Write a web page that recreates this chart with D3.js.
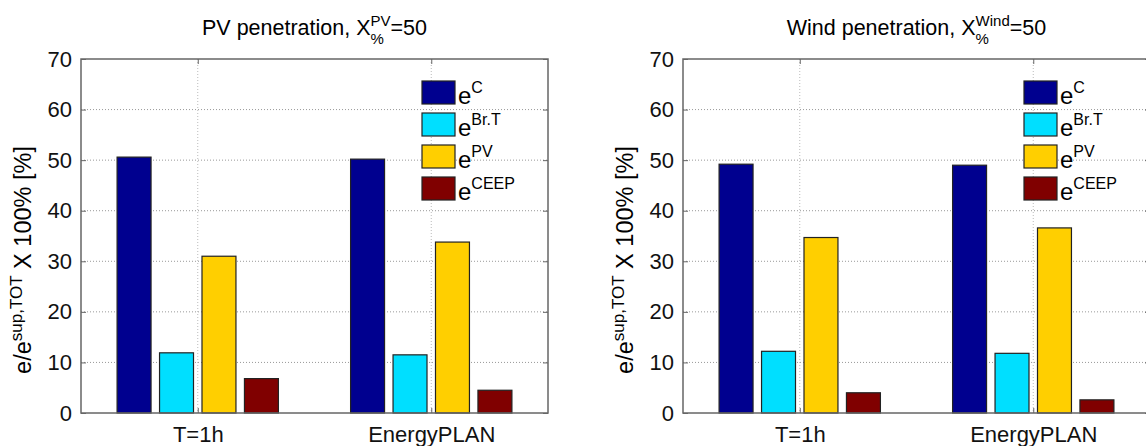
<!DOCTYPE html>
<html>
<head>
<meta charset="utf-8">
<script src="https://cdn.jsdelivr.net/npm/d3@7"></script>
<style>
  body { margin: 0; background: #fff; }
  svg { display: block; font-family: 'Liberation Sans', Arial, sans-serif; }
</style>
</head>
<body>
<div id="chart"></div>
<script>
// data
const categories = ['T=1h', 'EnergyPLAN'];
const seriesKeys = ['C', 'Br.T', 'PV', 'CEEP'];
const seriesColors = ['#00008f', '#00dfff', '#ffcf00', '#800000'];
const yTicks = [0, 10, 20, 30, 40, 50, 60, 70];

const pvC = [50.6, 50.2];
const pvBrT = [11.9, 11.5];
const pvPV = [31.0, 33.8];
const pvCEEP = [6.8, 4.5];

const windC = [49.2, 49.0];
const windBrT = [12.2, 11.8];
const windPV = [34.7, 36.6];
const windCEEP = [4.0, 2.6];

const panels = [
  { left: 81, title: 'PV penetration, X', sup: 'PV', series: [pvC, pvBrT, pvPV, pvCEEP] },
  { left: 683, title: 'Wind penetration, X', sup: 'Wind', series: [windC, windBrT, windPV, windCEEP] },
];

const width = 1146, height = 446;
const plotW = 467, plotTop = 59, plotBottom = 413;
const font = "'Liberation Sans', Arial, sans-serif";

const svg = d3.select('#chart').append('svg')
  .attr('width', width).attr('height', height);

const y = d3.scaleLinear().domain([0, 70]).range([plotBottom, plotTop]);

panels.forEach(p => {
  const g = svg.append('g');
  const x = d3.scaleLinear().domain([0.5, 2.5]).range([p.left, p.left + plotW]);
  const groupW = 4 / 5.5;
  const inner = d3.scaleBand().domain(seriesKeys)
    .range([-groupW / 2, groupW / 2]).paddingInner(0.2).paddingOuter(0.1);

  // grid
  g.selectAll('.hgrid').data(yTicks.slice(1, -1)).enter().append('line')
    .attr('x1', p.left).attr('x2', p.left + plotW)
    .attr('y1', d => y(d)).attr('y2', d => y(d))
    .attr('stroke', '#999').attr('stroke-width', 1).attr('stroke-dasharray', '1,2');
  g.selectAll('.vgrid').data([1, 2]).enter().append('line')
    .attr('x1', d => x(d)).attr('x2', d => x(d))
    .attr('y1', plotTop).attr('y2', plotBottom)
    .attr('stroke', '#bbb').attr('stroke-width', 1).attr('stroke-dasharray', '1,2');

  // bars
  p.series.forEach((vals, si) => {
    g.selectAll(null).data(vals).enter().append('rect')
      .attr('x', (d, i) => x(i + 1 + inner(seriesKeys[si])))
      .attr('width', x(inner.bandwidth()) - x(0))
      .attr('y', d => y(d))
      .attr('height', d => y(0) - y(d))
      .attr('fill', seriesColors[si])
      .attr('stroke', '#222').attr('stroke-width', 1.2);
  });

  // axes box
  g.append('rect')
    .attr('x', p.left).attr('y', plotTop).attr('width', plotW).attr('height', plotBottom - plotTop)
    .attr('fill', 'none').attr('stroke', '#666').attr('stroke-width', 1.5);

  const yAxisL = d3.axisLeft(y).tickValues(yTicks).tickSizeInner(-5).tickSizeOuter(0).tickPadding(9);
  const ya = g.append('g').attr('transform', `translate(${p.left},0)`).call(yAxisL);
  ya.select('.domain').remove();
  ya.selectAll('line').attr('stroke', '#666');
  ya.selectAll('text').attr('font-size', 22).attr('fill', '#111').attr('font-family', font);

  const yAxisR = d3.axisRight(y).tickValues(yTicks).tickSizeInner(-5).tickSizeOuter(0).tickFormat('');
  const yr = g.append('g').attr('transform', `translate(${p.left + plotW},0)`).call(yAxisR);
  yr.select('.domain').remove();
  yr.selectAll('line').attr('stroke', '#666');

  const xAxisB = d3.axisBottom(x).tickValues([1, 2]).tickFormat((d, i) => categories[i])
    .tickSizeInner(-5).tickSizeOuter(0).tickPadding(13);
  const xa = g.append('g').attr('transform', `translate(0,${plotBottom})`).call(xAxisB);
  xa.select('.domain').remove();
  xa.selectAll('line').attr('stroke', '#666');
  xa.selectAll('text').attr('font-size', 22).attr('fill', '#111').attr('font-family', font);

  const xAxisT = d3.axisTop(x).tickValues([1, 2]).tickFormat('').tickSizeInner(-5).tickSizeOuter(0);
  const xt = g.append('g').attr('transform', `translate(0,${plotTop})`).call(xAxisT);
  xt.select('.domain').remove();
  xt.selectAll('line').attr('stroke', '#666');

  // title with stacked super/subscript
  const tg = g.append('g');
  const t1 = tg.append('text').attr('x', 0).attr('y', 35).attr('font-size', 21.5).text(p.title);
  const w1 = t1.node().getComputedTextLength();
  const ts = tg.append('text').attr('x', w1).attr('y', 26).attr('font-size', 15).text(p.sup);
  const tb = tg.append('text').attr('x', w1).attr('y', 44).attr('font-size', 15).text('%');
  const w2 = Math.max(ts.node().getComputedTextLength(), tb.node().getComputedTextLength());
  const t3 = tg.append('text').attr('x', w1 + w2).attr('y', 35).attr('font-size', 21.5).text('=50');
  const total = w1 + w2 + t3.node().getComputedTextLength();
  tg.attr('transform', `translate(${p.left + plotW / 2 - total / 2},0)`);

  // y label
  const yl = g.append('text')
    .attr('transform', `translate(${p.left - 50},${(plotTop + plotBottom) / 2 + 24}) rotate(-90)`)
    .attr('text-anchor', 'middle').attr('font-size', 23.5);
  yl.append('tspan').text('e/e');
  yl.append('tspan').attr('font-size', 17).attr('dy', -9).text('sup,TOT');
  yl.append('tspan').attr('dy', 9).text(' X 100% [%]');

  // legend
  const lg = g.append('g').attr('transform', `translate(${p.left + plotW - 126},81)`);
  seriesKeys.forEach((k, i) => {
    const row = lg.append('g').attr('transform', `translate(0,${i * 32})`);
    row.append('rect').attr('width', 33).attr('height', 23)
      .attr('fill', seriesColors[i]).attr('stroke', '#222').attr('stroke-width', 1.2);
    const tx = row.append('text').attr('x', 36).attr('y', 23).attr('font-size', 24);
    tx.append('tspan').text('e');
    tx.append('tspan').attr('font-size', 16).attr('dy', -11).text(k);
  });
});
</script>
</body>
</html>
